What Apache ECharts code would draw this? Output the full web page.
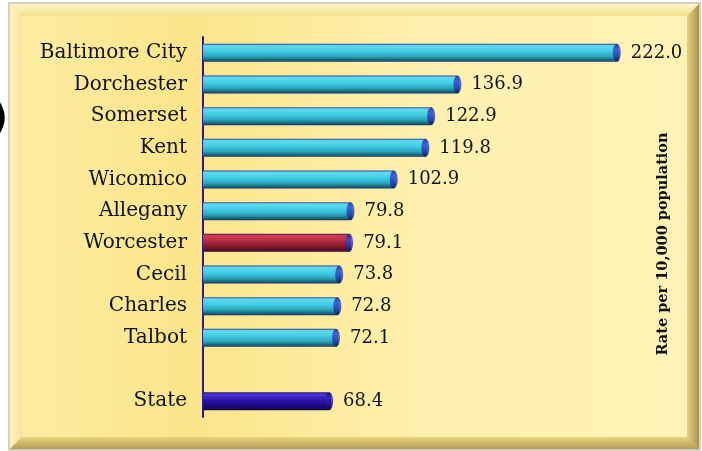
<!DOCTYPE html>
<html>
<head>
<meta charset="utf-8">
<script src="https://cdn.jsdelivr.net/npm/echarts@6/dist/echarts.min.js"></script>
<style>
  html, body { margin: 0; padding: 0; background: #ffffff; }
  #chart { width: 702px; height: 451px; }
</style>
</head>
<body>
<div id="chart"></div>
<script>
// Jurisdictions, top to bottom; the empty slot separates the state total
const categories = ['Baltimore City', 'Dorchester', 'Somerset', 'Kent', 'Wicomico',
  'Allegany', 'Worcester', 'Cecil', 'Charles', 'Talbot', '', 'State'];
const rates = [222.0, 136.9, 122.9, 119.8, 102.9, 79.8, 79.1, 73.8, 72.8, 72.1, null, 68.4];
const highlightCounty = 'Worcester';
const totalLabel = 'State';
const axisTitle = 'Rate per 10,000 population';

const W = 702, H = 451;

function vgrad(stops) {
  return new echarts.graphic.LinearGradient(0, 0, 0, 1,
    stops.map(s => ({ offset: s[0], color: s[1] })));
}

const cyanFill = vgrad([[0, '#2a3c9c'], [0.1, '#5fdcf0'], [0.4, '#42cde6'], [0.7, '#2aa6bd'], [0.9, '#156577'], [1, '#1d2d78']]);
const redFill = vgrad([[0, '#4a1450'], [0.1, '#d04058'], [0.4, '#b42a42'], [0.75, '#7c1426'], [1, '#3a0a34']]);
const indigoFill = vgrad([[0, '#20087a'], [0.12, '#5036d8'], [0.45, '#2c12ae'], [0.8, '#1c0a78'], [1, '#0e0448']]);
const capFill = vgrad([[0, '#1a2080'], [0.3, '#3a4ad0'], [0.7, '#2230a8'], [1, '#121860']]);
const capIndigo = vgrad([[0, '#140660'], [0.3, '#3a24b8'], [0.7, '#24109a'], [1, '#0c0440']]);

function fillFor(name) {
  if (name === highlightCounty) return redFill;
  if (name === totalLabel) return indigoFill;
  return cyanFill;
}

const barData = rates.map((v, i) => ({
  value: v === null ? '-' : v,
  itemStyle: { color: fillFor(categories[i]) }
}));
const capData = rates.map((v, i) => ({
  value: v === null ? '-' : v,
  itemStyle: { color: categories[i] === totalLabel ? capIndigo : capFill }
}));

// Bevelled yellow panel behind the plot
const px0 = 10, py0 = 4, px1 = 699, py1 = 449, bev = 12;
const panel = [
  { type: 'rect', shape: { x: px0 - 2, y: py0 - 2, width: px1 - px0 + 4, height: py1 - py0 + 4 },
    style: { fill: '#d4d0c4' }, z: -10, silent: true },
  { type: 'polygon', shape: { points: [[px0, py0], [px1, py0], [px1 - bev, py0 + bev], [px0 + bev, py0 + bev]] },
    style: { fill: new echarts.graphic.LinearGradient(0, 0, 0, 1, [{ offset: 0, color: '#fff6c8' }, { offset: 1, color: '#f3df8a' }]) }, z: -9, silent: true },
  { type: 'polygon', shape: { points: [[px0, py0], [px0 + bev, py0 + bev], [px0 + bev, py1 - bev], [px0, py1]] },
    style: { fill: new echarts.graphic.LinearGradient(0, 0, 1, 0, [{ offset: 0, color: '#fff4c0' }, { offset: 1, color: '#f6e398' }]) }, z: -9, silent: true },
  { type: 'polygon', shape: { points: [[px1, py0], [px1, py1], [px1 - bev, py1 - bev], [px1 - bev, py0 + bev]] },
    style: { fill: new echarts.graphic.LinearGradient(0, 0, 1, 0, [{ offset: 0, color: '#e6cf78' }, { offset: 1, color: '#a89450' }]) }, z: -9, silent: true },
  { type: 'polygon', shape: { points: [[px0, py1], [px0 + bev, py1 - bev], [px1 - bev, py1 - bev], [px1, py1]] },
    style: { fill: new echarts.graphic.LinearGradient(0, 0, 0, 1, [{ offset: 0, color: '#ead37c' }, { offset: 1, color: '#b29c56' }]) }, z: -9, silent: true },
  { type: 'rect', shape: { x: px0 + bev, y: py0 + bev, width: px1 - px0 - 2 * bev, height: py1 - py0 - 2 * bev },
    style: { fill: new echarts.graphic.LinearGradient(0, 0, 1, 0, [
      { offset: 0, color: '#fdeca2' }, { offset: 0.25, color: '#fce58a' },
      { offset: 0.6, color: '#fef0ae' }, { offset: 1, color: '#fef2b6' }]) }, z: -8, silent: true },
  // clipped glyph peeking in at the left page edge
  { type: 'text', left: -9, top: 102,
    style: { text: ')', font: 'bold 37px "DejaVu Sans"', fill: '#000000' }, z: -7, silent: true },
  { type: 'text', x: 663, y: 244, rotation: Math.PI / 2, originX: 0, originY: 0,
    style: { text: axisTitle, font: 'bold 14.5px "DejaVu Serif"', fill: '#111111',
      textAlign: 'center', textVerticalAlign: 'middle' }, silent: true }
];

const chart = echarts.init(document.getElementById('chart'), null, { renderer: 'canvas', width: W, height: H });
chart.setOption({
  animation: false,
  backgroundColor: '#ffffff',
  graphic: panel,
  grid: { left: 203, right: 57, top: 37, bottom: 34, containLabel: false },
  xAxis: {
    type: 'value', min: 0, max: 236, show: false
  },
  yAxis: {
    type: 'category', data: categories, inverse: true,
    axisLine: { show: true, lineStyle: { color: '#2c1c8c', width: 2 } },
    axisTick: { show: false },
    axisLabel: { color: '#111111', fontFamily: 'DejaVu Serif', fontSize: 20, margin: 16 }
  },
  series: [
    {
      type: 'bar', data: barData, barWidth: 18,
      itemStyle: { borderRadius: [0, 3, 3, 0] },
      label: {
        show: true, position: 'right', distance: 12,
        formatter: p => Number(p.value).toFixed(1),
        color: '#111111', fontFamily: 'DejaVu Serif', fontSize: 18
      },
      z: 2
    },
    {
      type: 'scatter', data: capData, symbol: 'circle', symbolSize: [8, 18],
      symbolOffset: [-2, 0],
      z: 3, silent: true
    }
  ]
});
</script>
</body>
</html>
